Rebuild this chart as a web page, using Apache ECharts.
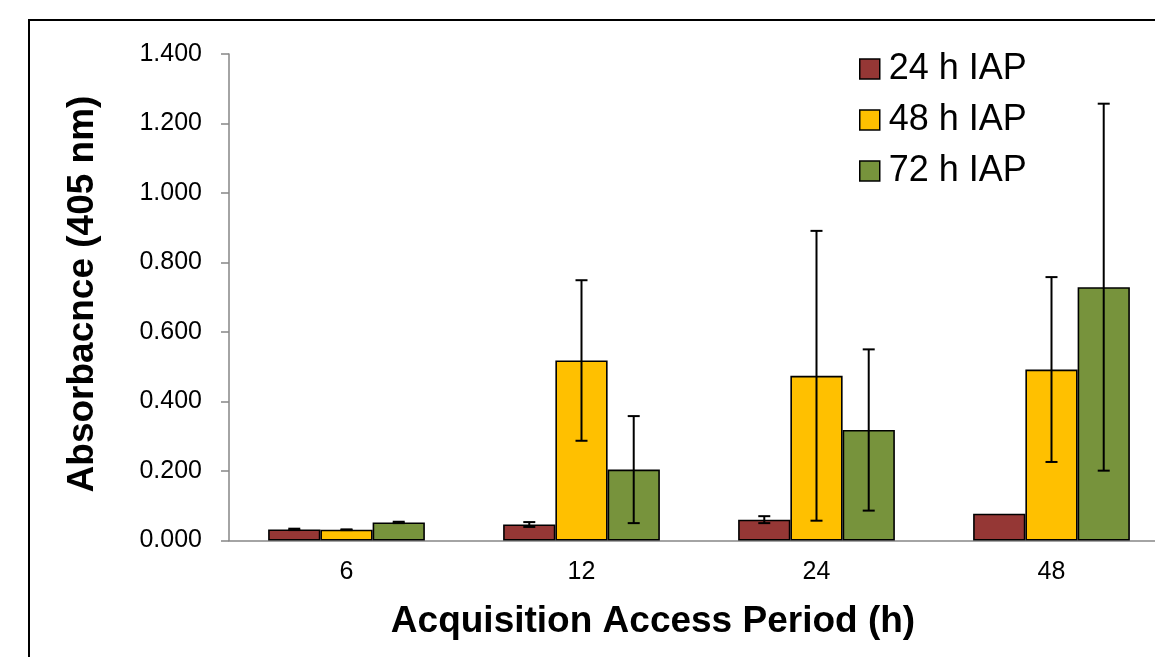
<!DOCTYPE html>
<html>
<head>
<meta charset="utf-8">
<script src="https://cdn.jsdelivr.net/npm/echarts@6/dist/echarts.min.js"></script>
<style>html,body{margin:0;padding:0;background:#fff;}#c{width:1155px;height:657px;}</style>
</head>
<body>
<div id="c"></div>
<script>
const categories = ['6', '12', '24', '48'];
const seriesNames = ['24 h IAP', '48 h IAP', '72 h IAP'];
const iap24 = [0.032, 0.046, 0.060, 0.077];
const iap24Err = [0.002, 0.007, 0.010, 0.000];
const iap48 = [0.031, 0.518, 0.474, 0.492];
const iap48Err = [0.001, 0.231, 0.417, 0.266];
const iap72 = [0.052, 0.204, 0.318, 0.729];
const iap72Err = [0.002, 0.154, 0.232, 0.528];
const yTicks = { min: 0, max: 1.4, interval: 0.2 };

const colors = ['#953735', '#FFC000', '#77933C'];
const FONT = 'Liberation Sans, Arial, sans-serif';
const values = [iap24, iap48, iap72];
const errs = [iap24Err, iap48Err, iap72Err];
const catGap = 1 / 3;

const chart = echarts.init(document.getElementById('c'));

const barSeries = values.map((v, i) => ({
  name: seriesNames[i],
  type: 'bar',
  data: v,
  barGap: '0%',
  barCategoryGap: '33.3%',
  itemStyle: { color: colors[i], borderColor: '#000', borderWidth: 1.6 },
  z: 2
}));

const errSeries = values.map((v, i) => ({
  name: seriesNames[i] + ' err',
  type: 'custom',
  z: 5,
  silent: true,
  data: v.map((val, k) => [k, val - errs[i][k], val + errs[i][k]]),
  encode: { x: 0, y: [1, 2] },
  renderItem: function (params, api) {
    const k = api.value(0);
    const lo = api.coord([k, api.value(1)]);
    const hi = api.coord([k, api.value(2)]);
    const bw = api.size([1, 0])[0];
    const w = bw * (1 - catGap) / 3;
    const x = lo[0] + (i - 1) * w;
    const hw = 6;
    if (Math.abs(hi[1] - lo[1]) < 0.5) return null;
    const st = { stroke: '#000', lineWidth: 2 };
    return {
      type: 'group',
      children: [
        { type: 'line', shape: { x1: x, y1: lo[1], x2: x, y2: hi[1] }, style: st },
        { type: 'line', shape: { x1: x - hw, y1: lo[1], x2: x + hw, y2: lo[1] }, style: st },
        { type: 'line', shape: { x1: x - hw, y1: hi[1], x2: x + hw, y2: hi[1] }, style: st }
      ]
    };
  }
}));

chart.setOption({
  animation: false,
  backgroundColor: '#fff',
  grid: { left: 229, right: -14, top: 54, bottom: 116.5, containLabel: false, outerBoundsMode: 'none' },
  legend: {
    data: seriesNames,
    orient: 'vertical',
    left: 859,
    top: 49,
    padding: 0,
    itemWidth: 20,
    itemHeight: 20,
    itemGap: 11,
    icon: 'rect',
    itemStyle: { borderColor: '#000', borderWidth: 1.5 },
    textStyle: { fontFamily: FONT, fontSize: 36, color: '#000', lineHeight: 40, padding: [0, 0, 0, 4] }
  },
  xAxis: {
    type: 'category',
    data: categories,
    axisLine: { lineStyle: { color: '#868686', width: 1.5 } },
    axisTick: { show: false },
    axisLabel: { fontFamily: FONT, fontSize: 25, color: '#000', margin: 19 },
    splitLine: { show: false }
  },
  yAxis: {
    type: 'value',
    min: yTicks.min,
    max: yTicks.max,
    interval: yTicks.interval,
    axisLine: { show: true, lineStyle: { color: '#868686', width: 1.5 } },
    axisTick: { show: true, inside: false, length: 8, lineStyle: { color: '#868686', width: 1.5 } },
    axisLabel: { fontFamily: FONT, fontSize: 25, color: '#000', margin: 27, formatter: v => v.toFixed(3) },
    splitLine: { show: false }
  },
  graphic: [
    { type: 'rect', shape: { x: 29, y: 20, width: 2000, height: 2000 }, style: { fill: 'none', stroke: '#000', lineWidth: 2 }, silent: true, z: -1 },
    { type: 'text', x: 653, y: 622, style: { text: 'Acquisition Access Period (h)', fontFamily: FONT, fontSize: 37, fontWeight: 'bold', fill: '#000', align: 'center', verticalAlign: 'middle' } },
    { type: 'text', x: 83, y: 294, rotation: Math.PI / 2, style: { text: 'Absorbacnce (405 nm)', fontFamily: FONT, fontSize: 37, fontWeight: 'bold', fill: '#000', align: 'center', verticalAlign: 'middle' } }
  ],
  series: barSeries.concat(errSeries)
});
</script>
</body>
</html>
